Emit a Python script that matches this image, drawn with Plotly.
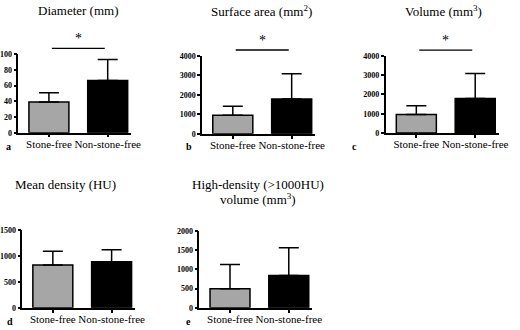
import plotly.graph_objects as go

W, H = 520, 330

categories = ["Stone-free", "Non-stone-free"]

diameter_mean = [39.2, 66.5]
diameter_sd = [11.8, 26.7]
diameter_ticks = [0, 20, 40, 60, 80, 100]

surface_mean = [960, 1790]
surface_sd = [450, 1290]
surface_ticks = [0, 1000, 2000, 3000, 4000]

volume_mean = [960, 1790]
volume_sd = [450, 1290]
volume_ticks = [0, 1000, 2000, 3000, 4000]

density_mean = [830, 892]
density_sd = [265, 233]
density_ticks = [0, 500, 1000, 1500]

hd_mean = [496, 843]
hd_sd = [632, 717]
hd_ticks = [0, 500, 1000, 1500, 2000]

titles = ["Diameter (mm)", "Surface area (mm<sup>2</sup>)", "Volume (mm<sup>3</sup>)",
          "Mean density (HU)", "High-density (>1000HU)"]
title_e_line2 = "volume (mm<sup>3</sup>)"
letters = ["a", "b", "c", "d", "e"]
significant = [True, True, True, False, False]

bar_colors = ["#a6a6a6", "#000000"]
SERIF = "Liberation Serif"

panels = [
    dict(mean=diameter_mean, sd=diameter_sd, ticks=diameter_ticks,
         xpx=(16.7, 132.0), ypx=(51.7, 132.3), title_xy=(78, 7), letter_xy=(2, 146)),
    dict(mean=surface_mean, sd=surface_sd, ticks=surface_ticks,
         xpx=(204.5, 320.0), ypx=(53.3, 133.5), title_xy=(265, 7), letter_xy=(186, 146)),
    dict(mean=volume_mean, sd=volume_sd, ticks=volume_ticks,
         xpx=(392.0, 507.5), ypx=(53.3, 132.7), title_xy=(451, 7), letter_xy=(356, 146)),
    dict(mean=density_mean, sd=density_sd, ticks=density_ticks,
         xpx=(20.7, 136.0), ypx=(232.7, 312.3), title_xy=(65, 186), letter_xy=(3, 326)),
    dict(mean=hd_mean, sd=hd_sd, ticks=hd_ticks,
         xpx=(201.7, 317.0), ypx=(233.3, 312.3), title_xy=(262, 186), letter_xy=(186, 326)),
]


def px_x(v):
    return v / W


def px_y(v):
    return 1 - v / H


fig = go.Figure()
annotations = []
shapes = []

for i, p in enumerate(panels):
    n = "" if i == 0 else str(i + 1)
    xa, ya = "x" + n, "y" + n
    fig.add_trace(go.Bar(
        x=categories, y=p["mean"], xaxis=xa, yaxis=ya,
        marker=dict(color=bar_colors, line=dict(color="black", width=1.5)),
        width=0.68,
        error_y=dict(type="data", symmetric=False, array=p["sd"],
                     arrayminus=[0] * len(p["sd"]), color="black",
                     thickness=1.5, width=10),
        showlegend=False, hoverinfo="skip",
    ))
    fig.update_layout(**{
        "xaxis" + n: dict(
            domain=[px_x(p["xpx"][0]), px_x(p["xpx"][1])],
            anchor=ya, type="category", range=[-0.52, 1.4],
            showline=True, linecolor="black", linewidth=1.5,
            ticks="outside", ticklen=3, tickwidth=1.5, tickcolor="black",
            tickfont=dict(family=SERIF, size=11, color="black"),
            showgrid=False, zeroline=False, fixedrange=True,
            ticklabelstandoff=-3,
        ),
        "yaxis" + n: dict(
            domain=[px_y(p["ypx"][1]), px_y(p["ypx"][0])],
            anchor=xa, range=[0, p["ticks"][-1]],
            tickvals=p["ticks"], ticktext=[str(t) for t in p["ticks"]],
            showline=True, linecolor="black", linewidth=1.5,
            ticks="outside", ticklen=3, tickwidth=1.5, tickcolor="black",
            tickfont=dict(family=SERIF, size=8, color="black", weight="bold"),
            showgrid=False, zeroline=False, fixedrange=True,
        ),
    })
    annotations.append(dict(
        text=titles[i], xref="paper", yref="paper",
        x=px_x(p["title_xy"][0]), y=px_y(p["title_xy"][1]),
        xanchor="center", yanchor="middle", showarrow=False,
        font=dict(family=SERIF, size=13, color="black"),
    ))
    annotations.append(dict(
        text="<b>" + letters[i] + "</b>", xref="paper", yref="paper",
        x=px_x(p["letter_xy"][0]), y=px_y(p["letter_xy"][1]),
        xanchor="left", yanchor="middle", showarrow=False,
        font=dict(family=SERIF, size=10, color="black"),
    ))
    if significant[i]:
        shapes.append(dict(
            type="line", xref=xa, yref=ya + " domain",
            x0=0.05, x1=0.95, y0=1.075, y1=1.075,
            line=dict(color="black", width=1.3),
        ))
        annotations.append(dict(
            text="*", xref=xa, yref=ya + " domain", x=0.5, y=1.08,
            xanchor="center", yanchor="bottom", showarrow=False,
            font=dict(family=SERIF, size=14, color="#000000"),
        ))

annotations.append(dict(
    text=title_e_line2, xref="paper", yref="paper",
    x=px_x(262), y=px_y(200), xanchor="center", yanchor="middle",
    showarrow=False, font=dict(family=SERIF, size=13, color="black"),
))

fig.update_layout(
    width=W, height=H, margin=dict(l=0, r=0, t=0, b=0),
    paper_bgcolor="white", plot_bgcolor="white",
    annotations=annotations, shapes=shapes, bargap=0.3,
)

fig.write_html(
    "out.html",
    config={"displayModeBar": False},
    post_script="document.body.style.margin='0';document.body.style.overflow='hidden';",
)
